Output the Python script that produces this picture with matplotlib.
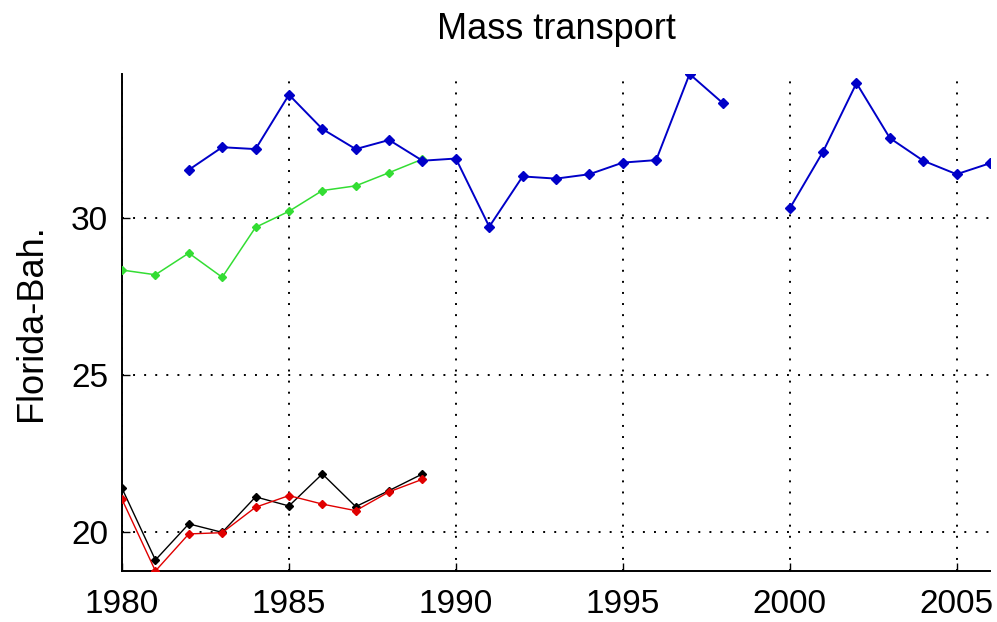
import numpy as np
import matplotlib
matplotlib.use("Agg")
import matplotlib.pyplot as plt

plt.rcParams['font.family'] = ['Liberation Sans', 'DejaVu Sans']

# Florida-Bahamas mass transport series
years_blue = [1982, 1983, 1984, 1985, 1986, 1987, 1988, 1989, 1990, 1991,
              1992, 1993, 1994, 1995, 1996, 1997, 1998, 1999,
              2000, 2001, 2002, 2003, 2004, 2005, 2006]
blue = [31.52, 32.24, 32.18, 33.91, 32.82, 32.18, 32.47, 31.81, 31.88, 29.71,
        31.31, 31.24, 31.38, 31.75, 31.83, 34.57, 33.64, np.nan,
        30.29, 32.10, 34.28, 32.53, 31.81, 31.38, 31.73]

years_early = [1980, 1981, 1982, 1983, 1984, 1985, 1986, 1987, 1988, 1989]
green = [28.33, 28.18, 28.87, 28.10, 29.69, 30.20, 30.86, 31.01, 31.43, 31.86]
black = [21.38, 19.10, 20.25, 19.98, 21.11, 20.82, 21.84, 20.80, 21.31, 21.84]
red = [21.03, 18.75, 19.93, 19.97, 20.78, 21.15, 20.88, 20.67, 21.27, 21.67]

xticks = [1980, 1985, 1990, 1995, 2000, 2005]
yticks = [20, 25, 30]

fig = plt.figure(figsize=(9.97, 6.22), dpi=100)
ax = fig.add_axes([0.1224, 0.082, 0.8706, 0.799])

ax.plot(years_early, black, '-', color='black', lw=1.0,
        marker='D', ms=4.5, zorder=3)
ax.plot(years_early, red, '-', color='#e00000', lw=1.0,
        marker='D', ms=4.5, zorder=4)
ax.plot(years_early, green, '-', color='#33dd33', lw=1.1,
        marker='D', ms=4.5, zorder=3)
ax.plot(years_blue, blue, '-', color='#0000c8', lw=1.4,
        marker='D', ms=5, zorder=5)

all_vals = np.concatenate([np.array(blue), green, black, red])
ax.set_xlim(1980, 2006)
ax.set_ylim(np.nanmin(all_vals), np.nanmax(all_vals))

ax.set_xticks(xticks)
ax.set_yticks(yticks)
ax.tick_params(direction='in', length=6, width=1.0, labelsize=24, pad=10)
ax.tick_params(axis='x', pad=13)

ax.grid(True, color='black', linestyle=(0, (1, 4.7)), linewidth=1.4)
ax.set_axisbelow(True)

for side in ('top', 'right'):
    ax.spines[side].set_visible(False)
for side in ('left', 'bottom'):
    ax.spines[side].set_linewidth(1.4)

ax.set_title('Mass transport', fontsize=26, pad=25)
ax.set_ylabel('Florida-Bah.', fontsize=26, labelpad=16)

fig.savefig('out.png', dpi=100, facecolor='white')
